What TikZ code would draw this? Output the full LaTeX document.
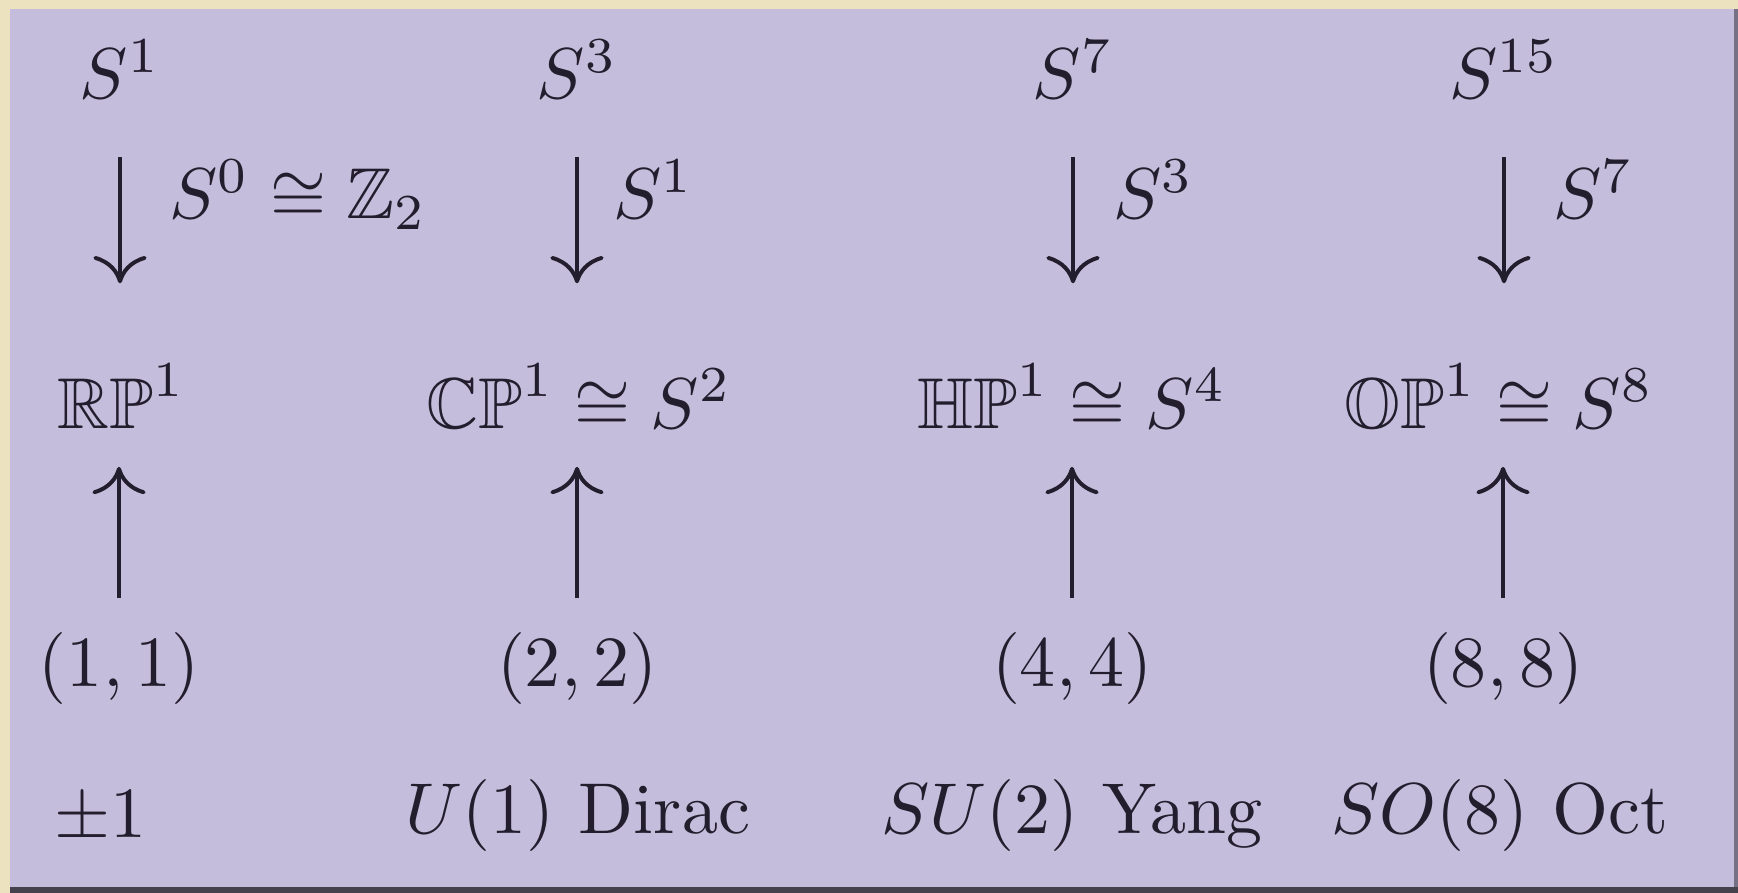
\documentclass[tikz,border=0pt]{standalone}
\definecolor{Lavender}{RGB}{197,189,220}
\definecolor{Parchment}{RGB}{236,226,192}
\definecolor{InkDark}{RGB}{35,30,45}
\usepackage{tikz}
\usetikzlibrary{arrows.meta, calc}
\usepackage{amsmath, amssymb}
\usepackage{xcolor}

\begin{document}
\begin{tikzpicture}[
  x=0.13889pt, y=-0.13889pt,
  every node/.style={inner sep=0pt, anchor=base, text=InkDark},
  fib/.style={draw=InkDark, line width=0.55pt,
    -{Computer Modern Rightarrow[length=3.8pt, width=7.4pt]}},
  down/.style={fib, shorten <=8.1pt, shorten >=20.1pt},
  up/.style={fib, shorten <=12.2pt, shorten >=5.4pt},
  fiblabel/.style={anchor=base west}
]
\useasboundingbox (0,0) rectangle (1738,893);
% slide background
\fill[Parchment] (0,0) rectangle (1738,893);
\fill[Lavender] (10,9) rectangle (1734,887);
\fill[black!65!Lavender] (10,887) rectangle (1738,893);
\fill[black!40!Lavender] (1734,9) rectangle (1738,887);

% total spaces
\node (s1)  at (120,99)  {$S^1$};
\node (s3)  at (577,99)  {$S^3$};
\node (s7)  at (1073,99) {$S^7$};
\node (s15) at (1504,99) {$S^{15}$};

% fibres
\node[fiblabel] (f1) at (168,219)  {$S^0\cong\mathbb{Z}_2$};
\node[fiblabel] (f2) at (612,219)  {$S^1$};
\node[fiblabel] (f3) at (1112,219) {$S^3$};
\node[fiblabel] (f4) at (1552,219) {$S^7$};

% base spaces
\node (rp) at (122,428)  {$\mathbb{RP}^1$};
\node (cp) at (579,428)  {$\mathbb{CP}^1\cong S^2$};
\node (hp) at (1072,428) {$\mathbb{HP}^1\cong S^4$};
\node (op) at (1499,428) {$\mathbb{OP}^1\cong S^8$};

% pairs
\node (p1) at (119,686)  {$(1,1)$};
\node (p2) at (577,686)  {$(2,2)$};
\node (p4) at (1072,686) {$(4,4)$};
\node (p8) at (1503,686) {$(8,8)$};

% groups
\node (g1) at (100,837)  {$\pm1$};
\node (g2) at (578,833)  {$U(1)$ Dirac};
\node (g4) at (1072,833) {$SU(2)$ Yang};
\node (g8) at (1500,833) {$SO(8)$ Oct};

% arrows
\draw[down] (s1.base)  -- (s1.base |- rp.base);
\draw[down] (s3.base)  -- (s3.base |- cp.base);
\draw[down] (s7.base)  -- (s7.base |- hp.base);
\draw[down] (s15.base) -- (s15.base |- op.base);

\draw[up] (p1.base) -- (p1.base |- rp.base);
\draw[up] (p2.base) -- (p2.base |- cp.base);
\draw[up] (p4.base) -- (p4.base |- hp.base);
\draw[up] (p8.base) -- (p8.base |- op.base);
\end{tikzpicture}
\end{document}
